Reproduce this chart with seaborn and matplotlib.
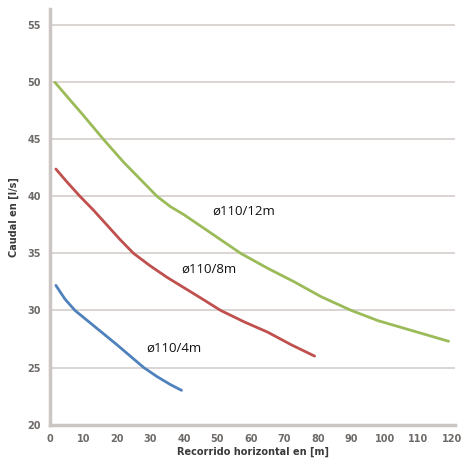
import matplotlib
matplotlib.use("Agg")
import matplotlib.pyplot as plt
import seaborn as sns
import pandas as pd

# Data
x_12m = [1.5, 5, 10, 16, 22, 28, 32, 36, 40, 45, 51, 57, 65, 73, 81, 90, 98, 105, 112, 119]
y_12m = [50.0, 48.8, 47.1, 45.0, 43.0, 41.2, 40.0, 39.1, 38.4, 37.4, 36.2, 35.0, 33.7, 32.5, 31.2, 30.0, 29.1, 28.5, 27.9, 27.3]
x_8m = [1.8, 5, 9, 13, 17, 21, 25, 30, 35, 40, 45, 51, 58, 65, 72, 79]
y_8m = [42.4, 41.3, 40.0, 38.8, 37.5, 36.2, 35.0, 33.9, 32.9, 32.0, 31.1, 30.0, 29.0, 28.1, 27.0, 26.0]
x_4m = [1.8, 4.5, 7.5, 10, 15, 20, 24, 28, 32, 36, 39.3]
y_4m = [32.2, 31.0, 30.0, 29.4, 28.2, 27.0, 26.0, 25.0, 24.2, 23.5, 23.0]

series_names = ["ø110/12m", "ø110/8m", "ø110/4m"]
series_colors = ["#9bbb59", "#c0504d", "#4f81bd"]
label_pos = [(48.4, 38.7), (39.1, 33.6), (28.7, 26.7)]

x_ticks = [0, 10, 20, 30, 40, 50, 60, 70, 80, 90, 100, 110, 120]
y_ticks = [20, 25, 30, 35, 40, 45, 50, 55]

sns.set_theme(style="white")
plt.rcParams['font.family'] = ['DejaVu Sans']

fig = plt.figure(figsize=(4.66, 4.65), dpi=100)
ax = fig.add_axes([0.107, 0.087, 0.870, 0.893])

data = [(x_12m, y_12m), (x_8m, y_8m), (x_4m, y_4m)]
for (xs, ys), name, col in zip(data, series_names, series_colors):
    df = pd.DataFrame({"x": xs, "y": ys})
    sns.lineplot(data=df, x="x", y="y", ax=ax, color=col, linewidth=2.0,
                 solid_capstyle="round", solid_joinstyle="round")

for name, (lx, ly) in zip(series_names, label_pos):
    ax.text(lx, ly, name, fontsize=9.5, color="#111111", ha="left", va="center",
            family=["Open Sans", "DejaVu Sans"])

ax.set_xlim(0, 121)
ax.set_ylim(20, 56.4)
ax.set_xticks(x_ticks)
ax.set_yticks(y_ticks)
ax.set_xticklabels([str(t) for t in x_ticks])
ax.set_yticklabels([str(t) for t in y_ticks])
ax.grid(axis="y", color="#d8d2cf", linewidth=1.3)
ax.grid(axis="x", visible=False)

for s in ["top", "right"]:
    ax.spines[s].set_visible(False)
for s in ["left", "bottom"]:
    ax.spines[s].set_color("#cbc6c3")
    ax.spines[s].set_linewidth(2.5)

ax.tick_params(axis="both", which="major", labelsize=7, colors="#cbc6c3",
               labelcolor="#6e6a68", length=3, width=1, direction="out")
for lbl in ax.get_xticklabels() + ax.get_yticklabels():
    lbl.set_fontweight("bold")

ax.set_xlabel("Recorrido horizontal en [m]", fontsize=7, fontweight="bold",
              color="#3a3a3a", labelpad=2)
ax.set_ylabel("Caudal en [l/s]", fontsize=7, fontweight="bold",
              color="#3a3a3a", labelpad=6)

fig.savefig("out.png", dpi=100, facecolor="white")
